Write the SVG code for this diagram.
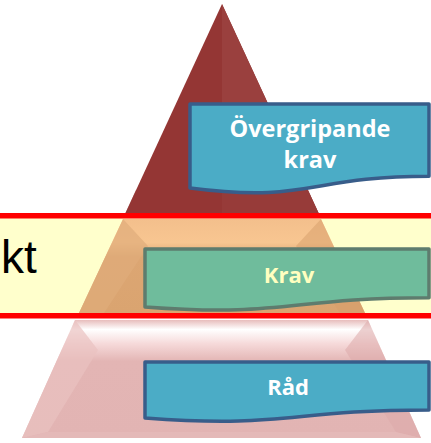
<svg xmlns="http://www.w3.org/2000/svg" width="431" height="443" viewBox="0 0 431 443">
<defs>
<style>
.lbl{font-family:"Open Sans","Noto Sans","Liberation Sans",sans-serif;font-weight:bold;text-anchor:middle}
.blue{fill:#4BACC6;stroke:#385D8A;stroke-width:3.5;stroke-linejoin:round}
.green{fill:#6FBC9C;stroke:#5E7C6E;stroke-width:3.5;stroke-linejoin:round}
</style>
<linearGradient id="pinkTop" x1="0" y1="0" x2="0" y2="1">
<stop offset="0" stop-color="#E7BDBC"/>
<stop offset="0.08" stop-color="#FFFFFF"/>
<stop offset="0.2" stop-color="#F6DADA"/>
<stop offset="0.35" stop-color="#E3B5B4"/>
<stop offset="1" stop-color="#E2B4B3"/>
</linearGradient>
<linearGradient id="orTop" x1="0" y1="0" x2="0" y2="1">
<stop offset="0" stop-color="#F3BF8C"/>
<stop offset="0.25" stop-color="#F8C691"/>
<stop offset="0.4" stop-color="#DCA673"/>
<stop offset="1" stop-color="#DAA470"/>
</linearGradient>
</defs>

<rect x="-10" y="216" width="450" height="100" fill="#FFFFCC"/>
<text x="1" y="273" font-family="Liberation Sans, Arial, sans-serif" font-size="46" fill="#000000">kt</text>

<g id="pyramid">
<g id="level-top">
<polygon points="222,4 125,214 319,214" fill="#943634"/>
<polygon points="222,4 222,214 319,214" fill="#9A403E"/>
<polygon points="136,190 308,190 319,214 125,214" fill="#943634" opacity="0.5"/>
</g>
<g id="level-middle">
<polygon points="123,219 321,219 365,313 79,313" fill="url(#orTop)"/>
<polygon points="123,219 148,246 104,313 79,313" fill="#E0AC7A" opacity="0.7"/>
<polygon points="321,219 296,246 340,313 365,313" fill="#D69E69" opacity="0.5"/>
</g>
<g id="level-bottom">
<polygon points="75,320 368,320 421,438 22,438" fill="url(#pinkTop)"/>
<polygon points="75,320 98,350 48,432 22,438" fill="#E9C2C1" opacity="0.7"/>
<polygon points="368,320 345,350 396,432 421,438" fill="#DDAAA9" opacity="0.55"/>
<polygon points="22,438 48,432 396,432 421,438" fill="#E6BABA" opacity="0.7"/>
</g>
</g>

<g id="band">
<line x1="-5" y1="215.7" x2="436" y2="215.7" stroke="#FF0000" stroke-width="5.5"/>
<line x1="-5" y1="315.8" x2="436" y2="315.8" stroke="#FF0000" stroke-width="5.5"/>
</g>

<g id="node-overgripande">
<path class="blue" d="M190,104 H429 V176.2 C309.5,176.2 309.5,203.6 190,188 Z"/>
<text class="lbl" x="310" y="137" font-size="23.5" fill="#FFFFFF">Övergripande</text>
<text class="lbl" x="310" y="168" font-size="23.5" fill="#FFFFFF">krav</text>
</g>

<g id="node-krav">
<path class="green" d="M145,249 H429 V297.7 C287,297.7 287,317.6 145,306.9 Z"/>
<text class="lbl" x="289" y="283" font-size="22" fill="#FFFFC0">Krav</text>
</g>

<g id="node-rad">
<path class="blue" d="M145,362 H429 V410 C287,410 287,428.4 145,418 Z"/>
<text class="lbl" x="288" y="395" font-size="22" fill="#FFFFFF">Råd</text>
</g>
</svg>
